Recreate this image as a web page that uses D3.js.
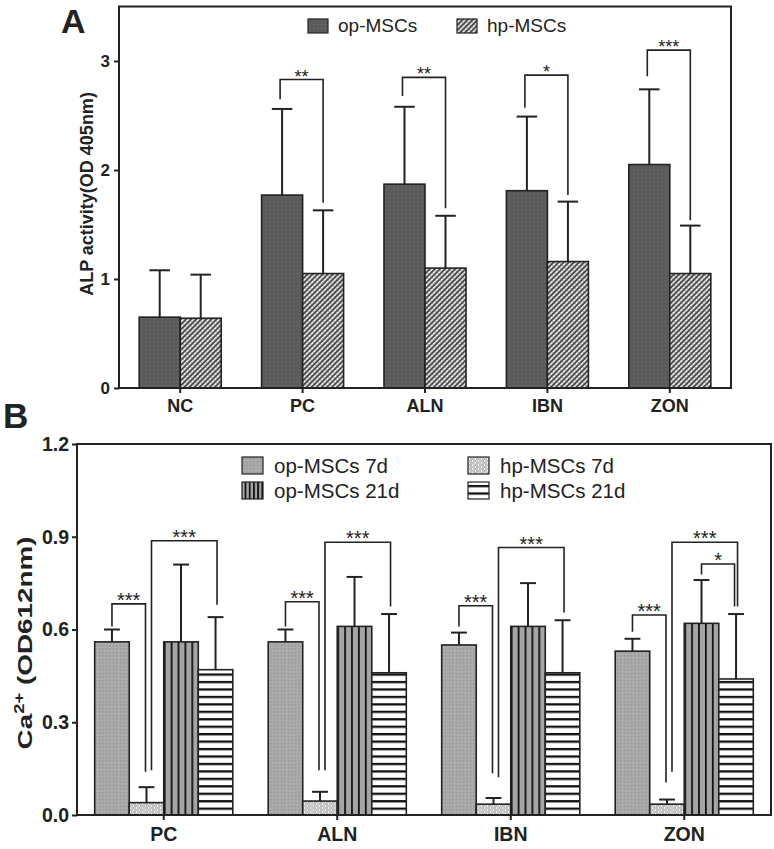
<!DOCTYPE html>
<html>
<head>
<meta charset="utf-8">
<script src="https://cdn.jsdelivr.net/npm/d3@7"></script>
<style>
  body { margin: 0; background: #fff; }
  svg { display: block; }
  text { font-family: "Liberation Sans", Arial, sans-serif; fill: #222; }
</style>
</head>
<body>
<div class="canvas"></div>
<script>
// ---- panel A data (ALP activity) ----
const groupsA = ['NC', 'PC', 'ALN', 'IBN', 'ZON'];
const seriesA = ['op-MSCs', 'hp-MSCs'];
const opA = [0.65, 1.77, 1.87, 1.81, 2.05];
const opSdA = [0.43, 0.79, 0.71, 0.68, 0.69];
const hpA = [0.64, 1.05, 1.10, 1.16, 1.05];
const hpSdA = [0.40, 0.58, 0.48, 0.55, 0.44];
const ticksA = [0, 1, 2, 3];
// significance brackets: top of bracket, bottom of left / right leg
const sigA = [
  { g: 'PC',  top: 2.83, l: 2.65, r: 1.70, label: '**' },
  { g: 'ALN', top: 2.85, l: 2.68, r: 1.65, label: '**' },
  { g: 'IBN', top: 2.87, l: 2.57, r: 1.77, label: '*' },
  { g: 'ZON', top: 3.10, l: 2.86, r: 1.54, label: '***' }
];

// ---- panel B data (Ca2+) ----
const groupsB = ['PC', 'ALN', 'IBN', 'ZON'];
const seriesB = ['op-MSCs 7d', 'hp-MSCs 7d', 'op-MSCs 21d', 'hp-MSCs 21d'];
const op7 = [0.56, 0.56, 0.55, 0.53];
const op7Sd = [0.04, 0.04, 0.04, 0.04];
const hp7 = [0.04, 0.045, 0.035, 0.035];
const hp7Sd = [0.05, 0.03, 0.02, 0.015];
const op21 = [0.56, 0.61, 0.61, 0.62];
const op21Sd = [0.25, 0.16, 0.14, 0.14];
const hp21 = [0.47, 0.46, 0.46, 0.44];
const hp21Sd = [0.17, 0.19, 0.17, 0.21];
const ticksB = [0, 0.3, 0.6, 0.9, 1.2];
// a / b = index of compared bars in seriesB
const sigB = [
  { g: 'PC',  a: 0, b: 1, top: 0.683, l: 0.61,  r: 0.14,  label: '***' },
  { g: 'PC',  a: 1, b: 3, top: 0.887, l: 0.145, r: 0.68,  label: '***' },
  { g: 'ALN', a: 0, b: 1, top: 0.69,  l: 0.61,  r: 0.145, label: '***' },
  { g: 'ALN', a: 1, b: 3, top: 0.882, l: 0.145, r: 0.674, label: '***' },
  { g: 'IBN', a: 0, b: 1, top: 0.677, l: 0.61,  r: 0.135, label: '***' },
  { g: 'IBN', a: 1, b: 3, top: 0.865, l: 0.122, r: 0.655, label: '***' },
  { g: 'ZON', a: 0, b: 1, top: 0.647, l: 0.593, r: 0.105, label: '***' },
  { g: 'ZON', a: 1, b: 3, top: 0.882, l: 0.14,  r: 0.674, label: '***' },
  { g: 'ZON', a: 2, b: 3, top: 0.812, l: 0.778, r: 0.674, label: '*' }
];

const ink = '#222';

const svg = d3.select('.canvas')
  .append('svg')
  .attr('width', 774)
  .attr('height', 849);

const defs = svg.append('defs');

// simple pattern helper
function pattern(id, w, h, opts = {}) {
  const p = defs.append('pattern')
    .attr('id', id)
    .attr('patternUnits', 'userSpaceOnUse')
    .attr('width', w)
    .attr('height', h)
    .attr('x', opts.x || 0)
    .attr('y', opts.y || 0);
  if (opts.transform) p.attr('patternTransform', opts.transform);
  return p;
}

// A: op dark dotted, hp diagonal hatch
let p = pattern('aOp', 4, 4);
p.append('rect').attr('width', 4).attr('height', 4).attr('fill', '#5b5b5b');
p.append('rect').attr('x', 1).attr('y', 1).attr('width', 1).attr('height', 1).attr('fill', '#727272');

p = pattern('aHp', 3.6, 3.6, { transform: 'rotate(45)' });
p.append('rect').attr('width', 3.6).attr('height', 3.6).attr('fill', '#e6e6e6');
p.append('rect').attr('width', 1.8).attr('height', 3.6).attr('fill', '#4d4d4d');
p.append('rect').attr('x', 1.8).attr('y', 1.8).attr('width', 1.8).attr('height', 0.6).attr('fill', '#8a8a8a');

// B: op 7d gray dotted
p = pattern('bOp7', 3.5, 3.5);
p.append('rect').attr('width', 3.5).attr('height', 3.5).attr('fill', '#ababab');
p.append('rect').attr('x', 1).attr('y', 1).attr('width', 1).attr('height', 1).attr('fill', '#7a7a7a');

// B: hp 7d light scales
p = pattern('bHp7', 6, 4);
p.append('rect').attr('width', 6).attr('height', 4).attr('fill', '#f4f4f4');
[[1.5, 2], [4.5, 0], [4.5, 4]].forEach(([cx, cy]) => {
  p.append('circle').attr('cx', cx).attr('cy', cy).attr('r', 1.5)
    .attr('fill', 'none').attr('stroke', '#999').attr('stroke-width', 0.8);
});

// ---- panel A ----
const xA = d3.scaleBand().domain(groupsA).range([119, 731]);
const yA = d3.scaleLinear().domain([0, 3.5]).range([388, 6.5]);
const wA = xA.bandwidth() * 0.335;
const x1A = d3.scaleBand().domain(seriesA).range([-wA, wA]);

const dataA = groupsA.map((g, i) => [
  { g, s: 'op-MSCs', v: opA[i], sd: opSdA[i], fill: 'url(#aOp)' },
  { g, s: 'hp-MSCs', v: hpA[i], sd: hpSdA[i], fill: 'url(#aHp)' }
]).flat();

const gA = svg.append('g');

gA.selectAll('rect.bar')
  .data(dataA)
  .enter()
  .append('rect')
    .attr('class', 'bar')
    .attr('x', d => xA(d.g) + xA.bandwidth() / 2 + x1A(d.s))
    .attr('y', d => yA(d.v))
    .attr('width', x1A.bandwidth())
    .attr('height', d => yA(0) - yA(d.v))
    .attr('fill', d => d.fill)
    .attr('stroke', ink)
    .attr('stroke-width', 1.6);

// error bars (upper only)
const errA = gA.selectAll('g.err')
  .data(dataA)
  .enter()
  .append('g')
    .attr('class', 'err')
    .attr('stroke', ink)
    .attr('stroke-width', 2);
errA.append('line')
  .attr('x1', d => xA(d.g) + xA.bandwidth() / 2 + x1A(d.s) + wA / 2)
  .attr('x2', d => xA(d.g) + xA.bandwidth() / 2 + x1A(d.s) + wA / 2)
  .attr('y1', d => yA(d.v))
  .attr('y2', d => yA(d.v + d.sd));
errA.append('line')
  .attr('x1', d => xA(d.g) + xA.bandwidth() / 2 + x1A(d.s) + wA / 4)
  .attr('x2', d => xA(d.g) + xA.bandwidth() / 2 + x1A(d.s) + wA * 0.75)
  .attr('y1', d => yA(d.v + d.sd))
  .attr('y2', d => yA(d.v + d.sd));

// brackets
sigA.forEach(s => {
  const c = xA(s.g) + xA.bandwidth() / 2;
  const xl = c - wA / 2 - 2;
  const xr = c + wA / 2;
  gA.append('path')
    .attr('d', `M${xl},${yA(s.l)}V${yA(s.top)}H${xr}V${yA(s.r)}`)
    .attr('fill', 'none')
    .attr('stroke', ink)
    .attr('stroke-width', 1.6);
  gA.append('text')
    .attr('x', (xl + xr) / 2)
    .attr('y', yA(s.top) + 3)
    .attr('text-anchor', 'middle')
    .attr('font-size', 18)
    .text(s.label);
});

// frame
gA.append('rect')
  .attr('x', 119).attr('y', yA(3.5))
  .attr('width', 731 - 119).attr('height', yA(0) - yA(3.5))
  .attr('fill', 'none').attr('stroke', ink).attr('stroke-width', 2);

// axes
const yAxisA = gA.append('g')
  .attr('transform', 'translate(119,0)')
  .call(d3.axisLeft(yA).tickValues(ticksA).tickFormat(d3.format('d')).tickSize(5).tickPadding(4));
const xAxisA = gA.append('g')
  .attr('transform', `translate(0,${yA(0)})`)
  .call(d3.axisBottom(xA).tickSize(5).tickPadding(6));
[yAxisA, xAxisA].forEach(ax => {
  ax.select('.domain').remove();
  ax.selectAll('line').attr('stroke', ink).attr('stroke-width', 2);
  ax.selectAll('text')
    .attr('fill', ink)
    .attr('font-size', 18)
    .attr('font-weight', 'bold')
    .style('font-family', '"Liberation Sans", Arial, sans-serif');
});
yAxisA.selectAll('text').attr('font-size', 17);

gA.append('text')
  .attr('transform', `translate(93,194) rotate(-90)`)
  .attr('text-anchor', 'middle')
  .attr('font-size', 18)
  .attr('font-weight', 'bold')
  .text('ALP activity(OD 405nm)');

// legend A
const legA = gA.selectAll('g.leg')
  .data([{ s: 'op-MSCs', fill: 'url(#aOp)', x: 308 }, { s: 'hp-MSCs', fill: 'url(#aHp)', x: 457 }])
  .enter()
  .append('g')
    .attr('transform', d => `translate(${d.x},19)`);
legA.append('rect')
  .attr('width', 20).attr('height', 14)
  .attr('fill', d => d.fill).attr('stroke', ink).attr('stroke-width', 1.2);
legA.append('text')
  .attr('x', 30).attr('y', 13)
  .attr('font-size', 19)
  .text(d => d.s);

svg.append('text')
  .attr('x', 61).attr('y', 33)
  .attr('font-size', 34)
  .attr('font-weight', 'bold')
  .text('A');

// ---- panel B ----
const xB = d3.scaleBand().domain(groupsB).range([77, 771]);
const yB = d3.scaleLinear().domain([0, 1.2]).range([815, 444]);
const wB = xB.bandwidth() * 0.199;
const x1B = d3.scaleBand().domain(seriesB).range([-2 * wB, 2 * wB]);

const valsB = [op7, hp7, op21, hp21];
const sdsB = [op7Sd, hp7Sd, op21Sd, hp21Sd];
const barX = (g, k) => xB(g) + xB.bandwidth() / 2 + x1B(seriesB[k]);

// per-bar stripe patterns so the lines line up with the bar edges
groupsB.forEach((g, i) => {
  const pv = pattern('bOp21_' + i, wB / 5, 10, { x: barX(g, 2) });
  pv.append('rect').attr('width', wB / 5).attr('height', 10).attr('fill', '#a5a5a5');
  pv.append('rect').attr('width', 1.8).attr('height', 10).attr('fill', '#111');
});
p = pattern('bHp21', 10, 7.45, { y: yB(0) });
p.append('rect').attr('width', 10).attr('height', 7.45).attr('fill', '#fff');
p.append('rect').attr('width', 10).attr('height', 2.3).attr('fill', '#111');

const fillB = (k, i) => ['url(#bOp7)', 'url(#bHp7)', 'url(#bOp21_' + i + ')', 'url(#bHp21)'][k];

const dataB = groupsB.map((g, i) => seriesB.map((s, k) => ({
  g, k, v: valsB[k][i], sd: sdsB[k][i], fill: fillB(k, i)
}))).flat();

const gB = svg.append('g');

gB.selectAll('rect.bar')
  .data(dataB)
  .enter()
  .append('rect')
    .attr('class', 'bar')
    .attr('x', d => barX(d.g, d.k))
    .attr('y', d => yB(d.v))
    .attr('width', x1B.bandwidth())
    .attr('height', d => yB(0) - yB(d.v))
    .attr('fill', d => d.fill)
    .attr('stroke', ink)
    .attr('stroke-width', 1.6);

const errB = gB.selectAll('g.err')
  .data(dataB)
  .enter()
  .append('g')
    .attr('class', 'err')
    .attr('stroke', ink)
    .attr('stroke-width', 2);
errB.append('line')
  .attr('x1', d => barX(d.g, d.k) + wB / 2)
  .attr('x2', d => barX(d.g, d.k) + wB / 2)
  .attr('y1', d => yB(d.v))
  .attr('y2', d => yB(d.v + d.sd));
errB.append('line')
  .attr('x1', d => barX(d.g, d.k) + wB * 0.27)
  .attr('x2', d => barX(d.g, d.k) + wB * 0.73)
  .attr('y1', d => yB(d.v + d.sd))
  .attr('y2', d => yB(d.v + d.sd));

sigB.forEach(s => {
  let xl = barX(s.g, s.a) + wB / 2;
  let xr = barX(s.g, s.b) + wB / 2;
  if (s.a === 1) xl += 5;
  if (s.b === 1) xr -= 1;
  if (s.b === 3) xr += (s.a === 2 ? -1.5 : 1.5);
  gB.append('path')
    .attr('d', `M${xl},${yB(s.l)}V${yB(s.top)}H${xr}V${yB(s.r)}`)
    .attr('fill', 'none')
    .attr('stroke', ink)
    .attr('stroke-width', 1.6);
  gB.append('text')
    .attr('x', (xl + xr) / 2)
    .attr('y', yB(s.top) + 3)
    .attr('text-anchor', 'middle')
    .attr('font-size', 20)
    .text(s.label);
});

gB.append('rect')
  .attr('x', 77).attr('y', yB(1.2))
  .attr('width', 771 - 77).attr('height', yB(0) - yB(1.2))
  .attr('fill', 'none').attr('stroke', ink).attr('stroke-width', 2);

const yAxisB = gB.append('g')
  .attr('transform', 'translate(77,0)')
  .call(d3.axisLeft(yB).tickValues(ticksB).tickFormat(d3.format('.1f')).tickSize(5).tickPadding(3));
const xAxisB = gB.append('g')
  .attr('transform', `translate(0,${yB(0)})`)
  .call(d3.axisBottom(xB).tickSize(5).tickPadding(7));
[yAxisB, xAxisB].forEach(ax => {
  ax.select('.domain').remove();
  ax.selectAll('line').attr('stroke', ink).attr('stroke-width', 2);
  ax.selectAll('text')
    .attr('fill', ink)
    .attr('font-size', 19.5)
    .attr('font-weight', 'bold')
    .style('font-family', '"Liberation Sans", Arial, sans-serif');
});

const yLabB = gB.append('text')
  .attr('text-anchor', 'middle')
  .attr('font-size', 21)
  .attr('font-weight', 'bold');
yLabB.append('tspan').text('Ca');
yLabB.append('tspan').attr('baseline-shift', 'super').attr('font-size', 14).text('2+');
yLabB.append('tspan').text(' (OD612nm)');
// the label in the figure is drawn wider than the font's natural width
const labLen = yLabB.node().getComputedTextLength();
yLabB.attr('transform', `translate(32,643) rotate(-90) scale(${213 / labLen},1)`);

// legend B: two columns, two rows
const legItems = seriesB.map((s, k) => ({
  s, k,
  x: k % 2 === 0 ? 242 : 468,
  y: k < 2 ? 457 : 482,
  fill: k === 2 ? 'url(#legOp21)' : fillB(k, 0)
}));
p = pattern('legOp21', 21 / 5, 10, { x: 242 });
p.append('rect').attr('width', 21 / 5).attr('height', 10).attr('fill', '#a5a5a5');
p.append('rect').attr('width', 1.8).attr('height', 10).attr('fill', '#111');

const legB = gB.selectAll('g.leg')
  .data(legItems)
  .enter()
  .append('g')
    .attr('transform', d => `translate(${d.x},${d.y})`);
legB.append('rect')
  .attr('width', 21).attr('height', 17)
  .attr('fill', d => d.fill).attr('stroke', ink).attr('stroke-width', 1.2);
legB.append('text')
  .attr('x', 32).attr('y', 16)
  .attr('font-size', 20.5)
  .text(d => d.s);

svg.append('text')
  .attr('x', 3).attr('y', 428)
  .attr('font-size', 35)
  .attr('font-weight', 'bold')
  .text('B');
</script>
</body>
</html>
